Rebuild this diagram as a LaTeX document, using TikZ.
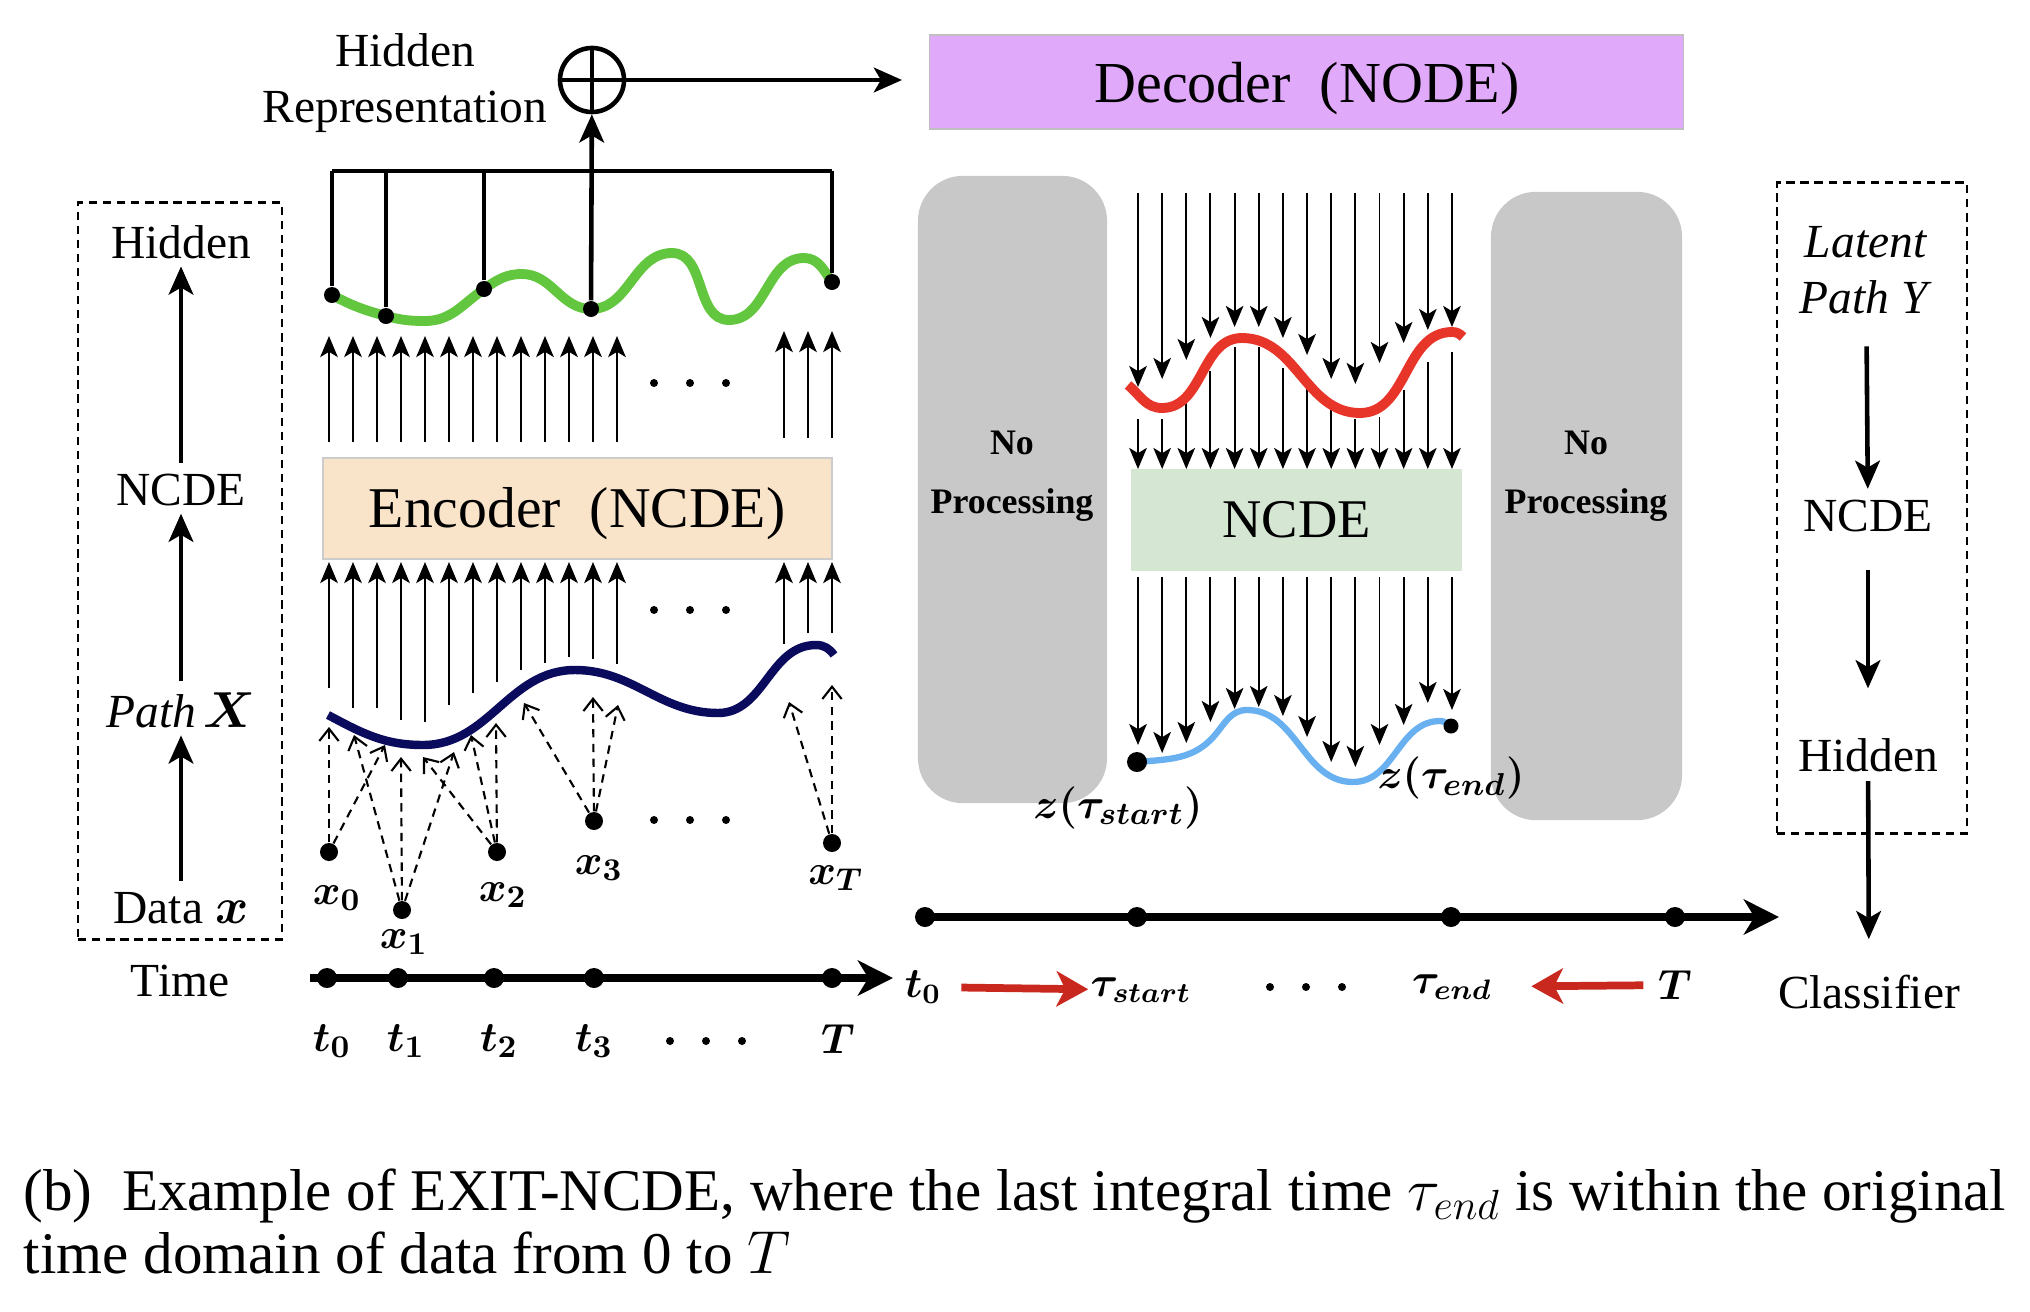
\documentclass[tikz,border=0pt]{standalone}
\usepackage{fontspec}
\setmainfont{Liberation Serif}
\usepackage{amsmath}
\usepackage{tikz}
\usetikzlibrary{positioning,arrows.meta}

\definecolor{hidgreen}{HTML}{62C63E}
\definecolor{pathnavy}{HTML}{0B0B5E}
\definecolor{latred}{HTML}{E8352A}
\definecolor{zblue}{HTML}{68B0F0}
\definecolor{decfill}{HTML}{E0A9F9}
\definecolor{encfill}{HTML}{FAE4C9}
\definecolor{ncdefill}{HTML}{D5E6D3}
\definecolor{nogray}{HTML}{C8C8C8}
\definecolor{timered}{HTML}{C9281F}

\newcommand{\threedots}[2]{\foreach \k in {-1,0,1} {\fill (#1+36*\k,#2) circle[radius=0.04cm];}}

\begin{document}
\begin{tikzpicture}[x=0.01cm, y=-0.01cm,
    every node/.style = {inner sep=0pt},
    lab/.style = {font=\fontsize{13.5}{16}\selectfont, align=center},
    mlab/.style = {font=\fontsize{13}{15}\selectfont},
    rlab/.style = {font=\fontsize{11.5}{14}\selectfont},
    nptext/.style = {font=\fontsize{10.2}{16.8}\selectfont\bfseries, align=center},
    capt/.style = {font=\fontsize{16.8}{19}\selectfont},
    dashbox/.style = {draw, line width=0.8pt, dash pattern=on 2.4pt off 1.6pt},
    encbox/.style = {fill=encfill, draw=black!20, line width=0.4pt,
      minimum width=5.09cm, minimum height=1.01cm},
    decbox/.style = {fill=decfill, draw=black!25, line width=0.4pt,
      minimum width=7.53cm, minimum height=0.94cm},
    ncdebox/.style = {fill=ncdefill, minimum width=3.31cm, minimum height=1.02cm,
      font=\fontsize{15.5}{18}\selectfont},
    graybox/.style = {fill=nogray, rounded corners=0.45cm},
    dot/.style = {circle, fill=black, minimum size=0.18cm},
    tdot/.style = {circle, fill=black, minimum size=0.2cm},
    bigarr/.style = {line width=1.3pt, -{Stealth[length=8pt,width=7pt,inset=2pt]}},
    thinarr/.style = {line width=0.55pt, -{Stealth[length=6pt,width=5pt,inset=1.5pt]}},
    dasharr/.style = {line width=0.6pt, dash pattern=on 2.4pt off 1.8pt,
      -{Straight Barb[length=3.5pt,width=5.5pt]}},
    axis/.style = {line width=2pt, -{Stealth[length=10pt,width=10pt,inset=3pt]}},
    redarr/.style = {timered, line width=2.2pt, -{Stealth[length=9pt,width=10pt,inset=2.5pt]}}]

\useasboundingbox (0,0) rectangle (2030,1312);

% legend boxes
\node[dashbox, minimum width=2.04cm, minimum height=7.36cm] (lbox) at (180,571) {};
\node[dashbox, minimum width=1.90cm, minimum height=6.50cm] (rbox) at (1872,508) {};

\node[lab] (lhid) at (181,242) {Hidden};
\node[lab] (lncde) at (181,490) {NCDE};
\node[lab] (lpath) at (181,710) {\textit{Path}\,$\boldsymbol{X}$};
\node[lab] (ldata) at (181,908) {Data $\boldsymbol{x}$};
\node[lab] (ltime) at (180,981) {Time};
\draw[bigarr, shorten <=3pt, shorten >=2pt] (lncde) -- (lhid);
\draw[bigarr, shorten <=3pt, shorten >=2pt] (lpath) -- (lncde);
\draw[bigarr, shorten <=3pt, shorten >=2pt] (ldata) -- (lpath);

\node[lab] (rlat) at (1866,270) {\textit{Latent}\\\textit{Path Y}};
\node[lab] (rncde) at (1868,516) {NCDE};
\node[lab] (rhid) at (1868,755) {Hidden};
\node[lab] (rcls) at (1869,992) {Classifier};
\draw[bigarr, shorten <=9pt, shorten >=3pt] (rlat) -- (rncde);
\draw[bigarr, shorten <=10.5pt, shorten >=14pt] (rncde) -- (rhid);
\draw[bigarr, shorten <=2.5pt, shorten >=10pt] (rhid) -- (rcls);

% encoder side
\node[encbox] (enc) at (577.5,508.5) {};
\node[font=\fontsize{16.4}{18}\selectfont] (enct) at (577,514) {Encoder\ \ (NCDE)};

\foreach \i in {0,...,12} {
  \coordinate (ua\i) at (329+24*\i,442);
  \coordinate (ub\i) at (329+24*\i,336);
  \draw[thinarr] (ua\i) -- (ub\i);
}
\foreach \x [count=\i] in {784,808,832} {
  \coordinate (va\i) at (\x,438);
  \coordinate (vb\i) at (\x,331);
  \draw[thinarr] (va\i) -- (vb\i);
}
\foreach \b [count=\i from 0] in {688,708,708,720,722,705,693,682,670,663,657,659,664} {
  \coordinate (la\i) at (329+24*\i,\b);
  \coordinate (lb\i) at (329+24*\i,562);
  \draw[thinarr] (la\i) -- (lb\i);
}
\foreach \x/\b [count=\i] in {784/644,808/633,832/633} {
  \coordinate (ma\i) at (\x,\b);
  \coordinate (mb\i) at (\x,562);
  \draw[thinarr] (ma\i) -- (mb\i);
}
\threedots{690}{383}
\threedots{690}{610}

% path X
\draw[pathnavy, line width=2.4pt] (328,715) to[out=-28,in=180] (423,745)
  to[out=0,in=180] (575,670) to[out=0,in=180] (718,713)
  to[out=0,in=180] (816,645) to[out=0,in=125] (834,655);

% data points
\node[dot] (x0) at (329,852) {};
\node[dot] (x1) at (402,910) {};
\node[dot] (x2) at (497,852) {};
\node[dot] (x3) at (594,821) {};
\node[dot] (xT) at (832,843) {};
\node[mlab] (lx0) at (337,898) {$\boldsymbol{x_0}$};
\node[mlab] (lx1) at (404,942) {$\boldsymbol{x_1}$};
\node[mlab] (lx2) at (503,895) {$\boldsymbol{x_2}$};
\node[mlab] (lx3) at (599,868) {$\boldsymbol{x_3}$};
\node[mlab] (lxT) at (836,878) {$\boldsymbol{x_T}$};
\threedots{690}{820}

\foreach \s/\tx/\ty [count=\k] in {x0/329/727, x0/385/745, x1/354/735, x1/401/757,
    x1/454/752, x2/423/757, x2/471/735, x2/496/723, x3/524/703, x3/593/697,
    x3/618/705, xT/789/702, xT/832/685} {
  \coordinate (dx\k) at (\tx,\ty);
  \draw[dasharr] (\s) -- (dx\k);
}

% hidden curve and read-out
\draw[hidgreen, line width=2.8pt] (332,295) coordinate (g0)
  to[out=-28,in=165] (386,316) coordinate (g1)
  to[out=-15,in=180] (425,321)
  to[out=0,in=215] (484,289) coordinate (g2)
  to[out=35,in=180] (522,274)
  to[out=0,in=180] (591,309) coordinate (g3)
  to[out=0,in=180] (672,253)
  to[out=0,in=180] (729,320)
  to[out=0,in=180] (804,258)
  to[out=0,in=125] (832,282) coordinate (g4);
\foreach \k in {0,...,4} \node[dot, minimum size=0.16cm] (hd\k) at (g\k) {};

\coordinate (brk) at (0,171);
\draw[line width=1.3pt] (hd0.center |- brk) -- (hd4.center |- brk);
\foreach \k in {0,1,2,4} \draw[line width=1.3pt] (hd\k) -- (hd\k.center |- brk);

\node[circle, draw, line width=1.3pt, minimum size=0.64cm] (sum) at (592,80) {};
\draw[line width=1.3pt] (sum.north) -- (sum.south) (sum.west) -- (sum.east);
\draw[bigarr] (hd3) -- (sum);
\coordinate (decin) at (902,80);
\draw[bigarr] (sum) -- (decin);
\node[lab] (hrep) at (405,83) {Hidden\\Representation};

% left time axis
\coordinate (lts) at (310,978);
\coordinate (lte) at (893,978);
\draw[axis] (lts) -- (lte);
\foreach \n/\x in {0/327,1/398,2/494,3/594,4/832} \node[tdot] (lt\n) at (\x,978) {};
\node[mlab] (ltl0) at (332,1041) {$\boldsymbol{t_0}$};
\node[mlab] (ltl1) at (406,1041) {$\boldsymbol{t_1}$};
\node[mlab] (ltl2) at (499,1041) {$\boldsymbol{t_2}$};
\node[mlab] (ltl3) at (594,1041) {$\boldsymbol{t_3}$};
\node[mlab] (ltlT) at (838,1039) {$\boldsymbol{T}$};
\threedots{706}{1041}

% decoder side
\node[decbox] (dec) at (1306.5,82) {};
\node[font=\fontsize{16.5}{18}\selectfont] (dect) at (1307,89) {Decoder\ \ (NODE)};

\node[graybox, minimum width=1.89cm, minimum height=6.27cm] (np1) at (1012.5,489.5) {};
\node[graybox, minimum width=1.91cm, minimum height=6.28cm] (np2) at (1586.5,506) {};
\node[nptext] (np1t) at (1012,476) {No\\Processing};
\node[nptext] (np2t) at (1586,476) {No\\Processing};

\node[ncdebox] (ncde) at (1296.5,520) {NCDE};

\foreach \ta/\sb/\tb [count=\j from 0] in {387/419/745, 379/419/753, 360/395/743,
    338/371/722, 327/347/709, 327/347/707, 338/368/716, 355/388/737, 379/407/762,
    384/419/767, 363/417/745, 343/390/725, 330/362/703, 327/352/710} {
  \coordinate (da\j) at (1138+24.15*\j,193);
  \coordinate (db\j) at (1138+24.15*\j,\ta);
  \coordinate (dc\j) at (1138+24.15*\j,\sb);
  \coordinate (dd\j) at (1138+24.15*\j,469);
  \coordinate (de\j) at (1138+24.15*\j,577);
  \coordinate (df\j) at (1138+24.15*\j,\tb);
  \draw[thinarr] (da\j) -- (db\j);
  \draw[thinarr] (dc\j) -- (dd\j);
  \draw[thinarr] (de\j) -- (df\j);
}

% latent path Y
\draw[latred, line width=2.8pt] (1128,385) to[out=-40,in=180] (1162,408)
  to[out=0,in=180] (1242,338) to[out=0,in=180] (1360,413)
  to[out=0,in=180] (1452,332) to[out=0,in=135] (1463,337);

\draw[zblue, line width=1.8pt] (1137,762) to[out=5,in=230] (1215,735)
  to[out=50,in=180] (1247,710) to[out=0,in=180] (1353,782)
  to[out=0,in=180] (1440,721) to[out=0,in=150] (1451,726);
\node[dot, minimum size=0.2cm] (zsd) at (1137,762) {};
\node[dot, minimum size=0.15cm] (zed) at (1451,726) {};
\node[mlab] (zs) at (1118,808) {$\boldsymbol{z(\tau_{start})}$};
\node[mlab] (ze) at (1451,778) {$\boldsymbol{z(\tau_{end})}$};

% right time axis
\node[tdot] (rt0) at (925,917) {};
\node[tdot] (rts) at (1137,917) {};
\node[tdot] (rte) at (1451,917) {};
\node[tdot] (rtT) at (1675,917) {};
\coordinate (rtend) at (1779,917);
\draw[axis] (rt0.center) -- (rtend);

\node[rlab] (rl0) at (923,987) {$\boldsymbol{t_0}$};
\node[rlab] (rls) at (1141,990) {$\boldsymbol{\tau_{start}}$};
\node[rlab] (rle) at (1452,987) {$\boldsymbol{\tau_{end}}$};
\node[rlab] (rlT) at (1675,985) {$\boldsymbol{T}$};
\threedots{1306}{987}
\draw[redarr, shorten <=5.5pt, shorten >=0.5pt] (rl0) -- (rls);
\draw[redarr, shorten <=4pt, shorten >=11pt] (rlT) -- (rle);

% caption
\node[capt, anchor=base west] (cap1) at (23,1210)
  {(b)\ \ Example of EXIT-NCDE, where the last integral time $\tau_{end}$ is within the original};
\node[capt, anchor=base west] (cap2) at (23,1273) {time domain of data from 0 to $T$};
\end{tikzpicture}
\end{document}
